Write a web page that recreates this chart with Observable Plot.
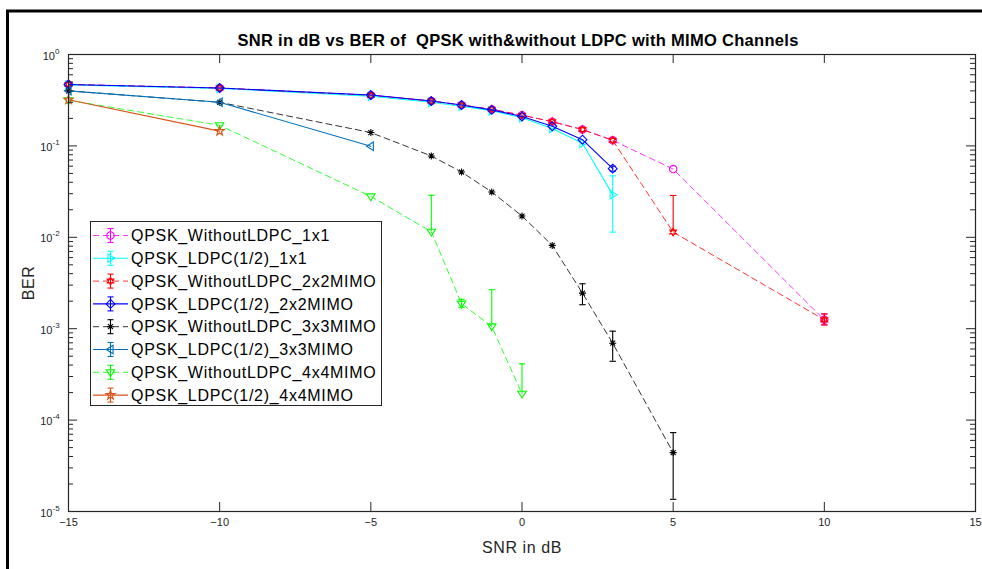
<!DOCTYPE html>
<html><head><meta charset="utf-8">
<script src="https://cdn.jsdelivr.net/npm/d3@7"></script>
<script src="https://cdn.jsdelivr.net/npm/@observablehq/plot@0.6"></script>
<style>body{margin:0;background:#fff} svg{display:block}</style>
</head><body><div id="chart"></div>
<script>
// ---------- data ----------
const chartTitle = "SNR in dB vs BER of  QPSK with&without LDPC with MIMO Channels";
const xLabel = "SNR in dB";
const yLabel = "BER";
const xTicks = [-15, -10, -5, 0, 5, 10, 15];
const yExponents = [0, -1, -2, -3, -4, -5];

const seriesNames = [
  "QPSK_WithoutLDPC_1x1",
  "QPSK_LDPC(1/2)_1x1",
  "QPSK_WithoutLDPC_2x2MIMO",
  "QPSK_LDPC(1/2)_2x2MIMO",
  "QPSK_WithoutLDPC_3x3MIMO",
  "QPSK_LDPC(1/2)_3x3MIMO",
  "QPSK_WithoutLDPC_4x4MIMO",
  "QPSK_LDPC(1/2)_4x4MIMO"
];
const seriesColors = ["#FF00FF", "#00FFFF", "#FF0000", "#0000FF", "#000000", "#0072BD", "#00FF00", "#D95319"];

const snr_noLDPC_1x1 = [-15, -10, -5, -3, -2, -1, 0, 1, 2, 3, 5, 10];
const ber_noLDPC_1x1 = [0.47, 0.43, 0.358, 0.31, 0.28, 0.25, 0.217, 0.184, 0.151, 0.115, 0.0558, 0.00125];
const snr_LDPC_1x1 = [-15, -10, -5, -3, -2, -1, 0, 1, 2, 3];
const ber_LDPC_1x1 = [0.465, 0.425, 0.35, 0.30, 0.272, 0.243, 0.203, 0.155, 0.107, 0.0293];
const snr_noLDPC_2x2 = [-15, -10, -5, -3, -2, -1, 0, 1, 2, 3, 5, 10];
const ber_noLDPC_2x2 = [0.47, 0.43, 0.358, 0.31, 0.28, 0.252, 0.217, 0.184, 0.151, 0.115, 0.0114, 0.00125];
const snr_LDPC_2x2 = [-15, -10, -5, -3, -2, -1, 0, 1, 2, 3];
const ber_LDPC_2x2 = [0.47, 0.43, 0.36, 0.31, 0.28, 0.248, 0.21, 0.164, 0.117, 0.0564];
const snr_noLDPC_3x3 = [-15, -10, -5, -3, -2, -1, 0, 1, 2, 3, 5];
const ber_noLDPC_3x3 = [0.40, 0.30, 0.14, 0.0776, 0.0518, 0.0313, 0.0171, 0.00815, 0.00245, 0.000694, 0.0000441];
const snr_LDPC_3x3 = [-15, -10, -5];
const ber_LDPC_3x3 = [0.40, 0.30, 0.099];
const snr_noLDPC_4x4 = [-15, -10, -5, -3, -2, -1, 0];
const ber_noLDPC_4x4 = [0.316, 0.168, 0.028, 0.0115, 0.00188, 0.00106, 0.000194];
const snr_LDPC_4x4 = [-15, -10];
const ber_LDPC_4x4 = [0.32, 0.145];

// error bars: [snr, lower (null = not drawn), upper]
const err_noLDPC_1x1 = [[10, 0.0011, 0.00145]];
const err_LDPC_1x1 = [[3, 0.0114, 0.047]];
const err_noLDPC_2x2 = [[5, null, 0.0287], [10, 0.0011, 0.00145]];
const err_LDPC_2x2 = [[3, 0.053, 0.060]];
const err_noLDPC_3x3 = [[2, 0.00183, 0.0031], [3, 0.00044, 0.00094], [5, 0.0000136, 0.000073]];
const err_LDPC_3x3 = [];
const err_noLDPC_4x4 = [[-3, null, 0.0288], [-2, 0.0017, 0.0021], [-1, null, 0.00267], [0, null, 0.000413]];
const err_LDPC_4x4 = [];

// ---------- symbols ----------
const R = s => Math.sqrt(s / Math.PI);
const symCircle = {draw(c, s) { const r = R(s); c.moveTo(r, 0); c.arc(0, 0, r, 0, 2 * Math.PI); }};
const symTriRight = {draw(c, s) { const r = R(s) * 1.15; c.moveTo(r, 0); c.lineTo(-r * 0.6, -r); c.lineTo(-r * 0.6, r); c.closePath(); }};
const symTriLeft = {draw(c, s) { const r = R(s) * 1.15; c.moveTo(-r, 0); c.lineTo(r * 0.6, -r); c.lineTo(r * 0.6, r); c.closePath(); }};
const symTriDown = {draw(c, s) { const r = R(s) * 1.15; c.moveTo(0, r); c.lineTo(-r, -r * 0.6); c.lineTo(r, -r * 0.6); c.closePath(); }};
const symDiamond = {draw(c, s) { const r = R(s) * 1.2; c.moveTo(0, -r); c.lineTo(r, 0); c.lineTo(0, r); c.lineTo(-r, 0); c.closePath(); }};
const symHexagram = {draw(c, s) {
  const r = R(s) * 1.05;
  for (const off of [-Math.PI / 2, Math.PI / 2]) {
    for (let i = 0; i < 3; i++) { const a = off + i * 2 * Math.PI / 3; const f = i ? "lineTo" : "moveTo"; c[f](r * Math.cos(a), r * Math.sin(a)); }
    c.closePath();
  }
}};
const symPentagram = {draw(c, s) {
  const r = R(s) * 1.3, ri = r * 0.382;
  for (let i = 0; i < 10; i++) { const a = -Math.PI / 2 + i * Math.PI / 5; const rr = i % 2 ? ri : r; c[i ? "lineTo" : "moveTo"](rr * Math.cos(a), rr * Math.sin(a)); }
  c.closePath();
}};
const symAsterisk = {draw(c, s) {
  const r = R(s) * 0.95;
  for (let i = 0; i < 4; i++) { const a = i * Math.PI / 4; c.moveTo(r * Math.cos(a), r * Math.sin(a)); c.lineTo(-r * Math.cos(a), -r * Math.sin(a)); }
}};
const symCap = {draw(c, s) { const r = R(s); c.moveTo(-r, 0); c.lineTo(r, 0); }};

const seriesSymbols = [symCircle, symTriRight, symHexagram, symDiamond, symAsterisk, symTriLeft, symTriDown, symPentagram];
const seriesDashed = [true, false, true, false, true, false, true, false];
const xs = [snr_noLDPC_1x1, snr_LDPC_1x1, snr_noLDPC_2x2, snr_LDPC_2x2, snr_noLDPC_3x3, snr_LDPC_3x3, snr_noLDPC_4x4, snr_LDPC_4x4];
const ys = [ber_noLDPC_1x1, ber_LDPC_1x1, ber_noLDPC_2x2, ber_LDPC_2x2, ber_noLDPC_3x3, ber_LDPC_3x3, ber_noLDPC_4x4, ber_LDPC_4x4];
const errs = [err_noLDPC_1x1, err_LDPC_1x1, err_noLDPC_2x2, err_LDPC_2x2, err_noLDPC_3x3, err_LDPC_3x3, err_noLDPC_4x4, err_LDPC_4x4];

// ---------- layout ----------
const W = 982, H = 569, mL = 68, mR = 7, mT = 54, mB = 58;
const fw = W - mL - mR, fh = H - mT - mB;
const axisColor = "#262626";
const DOT_R = 3.7;
const FONT = "'Liberation Sans', Arial, sans-serif";

const yMajor = yExponents.map(e => Math.pow(10, e));
const yMinor = [];
for (const e of yExponents.slice(1)) for (let k = 2; k <= 9; k++) yMinor.push(k * Math.pow(10, e));

const marks = [];
seriesNames.forEach((name, i) => {
  const pts = xs[i].map((x, j) => ({x, y: ys[i][j]}));
  const color = seriesColors[i];
  marks.push(Plot.line(pts, {x: "x", y: "y", stroke: color, strokeWidth: seriesDashed[i] ? 0.8 : 1.1,
    strokeDasharray: seriesDashed[i] ? "6,4" : null}));
  const eb = errs[i].map(([x, lo, hi]) => ({x, lo: lo ?? ys[i][xs[i].indexOf(x)], hi, capLo: lo != null}));
  marks.push(Plot.ruleX(eb, {x: "x", y1: "lo", y2: "hi", stroke: color, strokeWidth: 1.1}));
  marks.push(Plot.dot(eb, {x: "x", y: "hi", symbol: symCap, r: 3.2, stroke: color, strokeWidth: 1.1}));
  marks.push(Plot.dot(eb.filter(d => d.capLo), {x: "x", y: "lo", symbol: symCap, r: 3.2, stroke: color, strokeWidth: 1.1}));
  marks.push(Plot.dot(pts, {x: "x", y: "y", symbol: seriesSymbols[i], r: DOT_R, stroke: color, fill: "none", strokeWidth: 1.1}));
});

const isOne = v => v === 1;
marks.push(
  Plot.frame({stroke: axisColor, strokeWidth: 1.2}),
  Plot.tickX(xTicks, {x: d => d, insetTop: fh - 9, stroke: axisColor}),
  Plot.tickX(xTicks, {x: d => d, insetBottom: fh - 9, stroke: axisColor}),
  Plot.tickY(yMajor, {y: d => d, insetRight: fw - 9, stroke: axisColor}),
  Plot.tickY(yMajor, {y: d => d, insetLeft: fw - 9, stroke: axisColor}),
  Plot.tickY(yMinor, {y: d => d, insetRight: fw - 5, stroke: axisColor}),
  Plot.tickY(yMinor, {y: d => d, insetLeft: fw - 5, stroke: axisColor}),
  Plot.axisX({ticks: xTicks, tickSize: 0, tickPadding: 7, fontSize: 11, color: axisColor, label: null}),
  // y tick labels: base "10" and superscript exponent
  Plot.text(yMajor.filter(isOne), {y: d => d, frameAnchor: "left", text: () => "10", textAnchor: "end", lineAnchor: "middle", dx: -13.5, dy: 1.5, fontSize: 11, fill: axisColor}),
  Plot.text(yMajor.filter(isOne), {y: d => d, frameAnchor: "left", text: d => String(Math.round(Math.log10(d))), textAnchor: "start", lineAnchor: "middle", dx: -13.5, dy: -3.5, fontSize: 8, fill: axisColor}),
  Plot.text(yMajor.filter(v => !isOne(v)), {y: d => d, frameAnchor: "left", text: () => "10", textAnchor: "end", lineAnchor: "middle", dx: -16, dy: 1.5, fontSize: 11, fill: axisColor}),
  Plot.text(yMajor.filter(v => !isOne(v)), {y: d => d, frameAnchor: "left", text: d => String(Math.round(Math.log10(d))), textAnchor: "start", lineAnchor: "middle", dx: -16, dy: -3.5, fontSize: 8, fill: axisColor}),
  Plot.text([xLabel], {frameAnchor: "bottom", lineAnchor: "middle", textAnchor: "middle", dy: 36, fontSize: 16, fill: axisColor}),
  Plot.text([yLabel], {frameAnchor: "left", lineAnchor: "middle", textAnchor: "middle", dx: -40, rotate: -90, fontSize: 16, fill: axisColor}),
  Plot.text([chartTitle], {frameAnchor: "top", lineAnchor: "middle", textAnchor: "middle", dy: -14, dx: -4, fontSize: 16.5, fontWeight: "bold", fill: "#000"})
);

const chart = Plot.plot({
  width: W, height: H,
  marginLeft: mL, marginRight: mR, marginTop: mT, marginBottom: mB,
  style: {fontFamily: FONT, background: "#fff", overflow: "visible"},
  x: {domain: [-15, 15], axis: null},
  y: {type: "log", domain: [1e-5, 1], axis: null},
  marks
});
document.getElementById("chart").append(chart);

const svg = d3.select(chart);
// letter spacing on title / axis labels to mimic the wider original rendering
svg.selectAll("text").filter(function () { return this.textContent === chartTitle; }).attr("letter-spacing", "0.3px");
svg.selectAll("text").filter(function () { return this.textContent === xLabel || this.textContent === yLabel; }).attr("letter-spacing", "0.6px");

// ---------- figure border & legend ----------
svg.append("path").attr("d", `M7.5,${H} L7.5,11 L${W},11`).attr("fill", "none").attr("stroke", "#000").attr("stroke-width", 3);

const lg = svg.append("g").attr("font-family", FONT).attr("text-anchor", "start");
const lx = 90, ly = 221, lw = 291, lh = 184, step = 22.8;
lg.append("rect").attr("x", lx + 0.5).attr("y", ly + 0.5).attr("width", lw).attr("height", lh)
  .attr("fill", "#fff").attr("stroke", axisColor).attr("stroke-width", 1);
seriesNames.forEach((name, i) => {
  const cy = ly + 14.5 + i * step, color = seriesColors[i];
  const g = lg.append("g");
  g.append("line").attr("x1", lx + 3).attr("x2", lx + 38).attr("y1", cy).attr("y2", cy)
    .attr("stroke", color).attr("stroke-width", seriesDashed[i] ? 0.8 : 1.1)
    .attr("stroke-dasharray", seriesDashed[i] ? "6,4" : null);
  const mx = lx + 20.5;
  g.append("line").attr("x1", mx).attr("x2", mx).attr("y1", cy - 7).attr("y2", cy + 7).attr("stroke", color).attr("stroke-width", 1.1);
  for (const dy of [-7, 7]) g.append("line").attr("x1", mx - 3).attr("x2", mx + 3).attr("y1", cy + dy).attr("y2", cy + dy).attr("stroke", color).attr("stroke-width", 1.1);
  g.append("path").attr("transform", `translate(${mx},${cy})`)
    .attr("d", d3.symbol(seriesSymbols[i], Math.PI * DOT_R * DOT_R)())
    .attr("fill", "none").attr("stroke", color).attr("stroke-width", 1.1);
  g.append("text").attr("x", lx + 41).attr("y", cy).attr("dy", "0.35em")
    .attr("font-size", 16).attr("letter-spacing", "0.7px").attr("fill", "#000").text(name);
});
</script>
</body></html>
